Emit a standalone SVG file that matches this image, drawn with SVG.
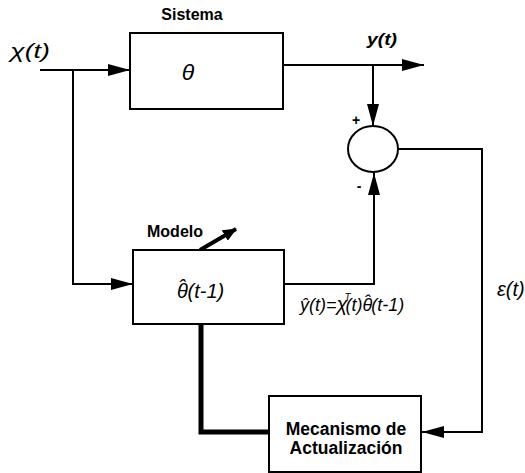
<svg xmlns="http://www.w3.org/2000/svg" width="525" height="473" viewBox="0 0 525 473">
<defs>
<marker id="ah" markerWidth="22" markerHeight="12" refX="22" refY="6" orient="auto" markerUnits="userSpaceOnUse"><path d="M0,0 L22,6 L0,12 Z" fill="#000"/></marker>
<marker id="ahs" markerWidth="14" markerHeight="12" refX="13" refY="6" orient="auto" markerUnits="userSpaceOnUse"><path d="M0,0 L14,6 L0,12 Z" fill="#000"/></marker>
</defs>
<style>
.box{fill:#fff;stroke:#000;stroke-width:2}
.ln{fill:none;stroke:#000;stroke-width:2}
.b{font-family:"Liberation Sans",Arial,sans-serif;font-weight:bold}
.i{font-family:"Liberation Sans",Arial,sans-serif;font-style:italic}
</style>
<rect width="525" height="473" fill="#fff"/>
<g id="connectors">
<path class="ln" d="M40,70 H130" marker-end="url(#ah)"/>
<path class="ln" d="M73,70 V284 H133" marker-end="url(#ah)"/>
<path class="ln" d="M283,65 H424" marker-end="url(#ah)"/>
<path class="ln" d="M373,65 V126" marker-end="url(#ah)"/>
<path class="ln" d="M284,284 H374 V173" marker-end="url(#ah)"/>
<path class="ln" d="M397,149 H482 V432 H422" marker-end="url(#ah)"/>
<path fill="none" stroke="#000" stroke-width="5" d="M201,324 V432 H269"/>
<path fill="none" stroke="#000" stroke-width="4" d="M200,250 L236,229" marker-end="url(#ahs)"/>
</g>
<g id="sistema">
<rect class="box" x="130" y="33" width="153" height="76"/>
<text class="b" x="192" y="20" font-size="16" text-anchor="middle">Sistema</text>
<text class="i" x="188" y="80" font-size="23" text-anchor="middle">θ</text>
</g>
<g id="sumador">
<ellipse class="box" cx="373" cy="149" rx="25" ry="23"/>
<text class="b" x="356" y="125" font-size="14" text-anchor="middle">+</text>
<text class="b" x="359" y="191" font-size="14" text-anchor="middle">-</text>
</g>
<g id="modelo">
<rect class="box" x="133" y="250" width="151" height="74"/>
<text class="b" x="147" y="237" font-size="16">Modelo</text>
<text class="i" x="177" y="298" font-size="20">θ<tspan dx="-9" dy="-4">ˆ</tspan><tspan dx="2" dy="4">(t-1)</tspan></text>
</g>
<g id="mecanismo">
<rect class="box" x="269" y="396" width="152" height="76"/>
<text class="b" x="346" y="435" font-size="17.5" text-anchor="middle">Mecanismo de</text>
<text class="b" x="346" y="454" font-size="17.5" text-anchor="middle">Actualización</text>
</g>
<g id="labels">
<text class="i" x="10" y="58" font-size="21" textLength="40" lengthAdjust="spacingAndGlyphs">χ(t)</text>
<text class="b" x="367" y="45" font-style="italic" font-size="17" textLength="30" lengthAdjust="spacingAndGlyphs">y(t)</text>
<text class="i" x="300" y="311" font-size="18">ŷ(t)=<tspan font-size="20">χ</tspan><tspan font-size="10" dx="-3" dy="-10">T</tspan><tspan dx="-5" dy="10">(t)θ</tspan><tspan dx="-8" dy="-3">ˆ</tspan><tspan dx="1" dy="3">(t-1)</tspan></text>
<text class="i" x="497" y="296" font-size="20">ε(t)</text>
</g>
</svg>
